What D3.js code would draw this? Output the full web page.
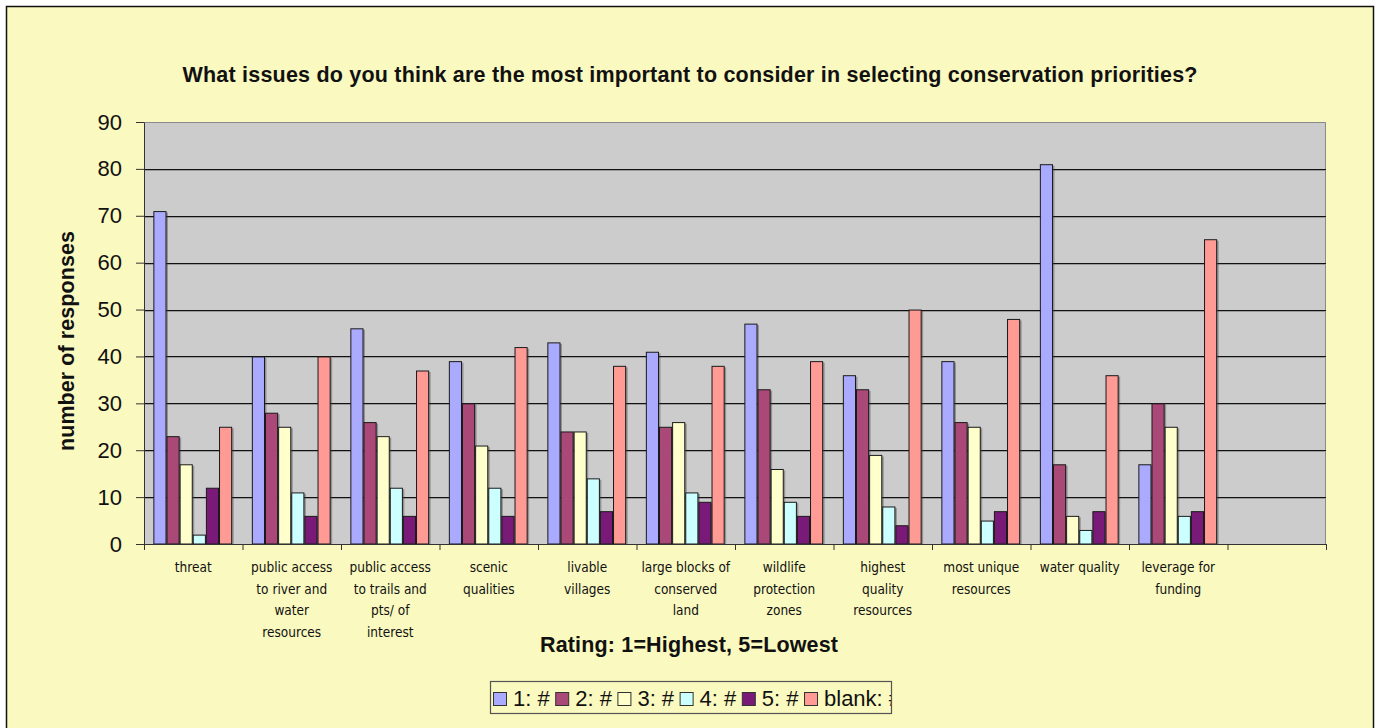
<!DOCTYPE html>
<html>
<head>
<meta charset="utf-8">
<script src="https://cdn.jsdelivr.net/npm/d3@7"></script>
<style>
  html, body { margin: 0; padding: 0; background: #ffffff; }
  svg { display: block; }
</style>
</head>
<body>
<svg id="chart" width="1381" height="728"></svg>
<script>
// Survey responses: how each issue was rated (1 = highest, 5 = lowest)
const categories = [
  "threat",
  "public access to river and water resources",
  "public access to trails and pts/ of interest",
  "scenic qualities",
  "livable villages",
  "large blocks of conserved land",
  "wildlife protection zones",
  "highest quality resources",
  "most unique resources",
  "water quality",
  "leverage for funding"
];
// Category labels as they wrap under the axis
const categoryLines = [
  ["threat"],
  ["public access", "to river and", "water", "resources"],
  ["public access", "to trails and", "pts/ of", "interest"],
  ["scenic", "qualities"],
  ["livable", "villages"],
  ["large blocks of", "conserved", "land"],
  ["wildlife", "protection", "zones"],
  ["highest", "quality", "resources"],
  ["most unique", "resources"],
  ["water quality"],
  ["leverage for", "funding"]
];
const seriesNames = ["1: #", "2: #", "3: #", "4: #", "5: #", "blank: #"];
const rating1 = [71, 40, 46, 39, 43, 41, 47, 36, 39, 81, 17];
const rating2 = [23, 28, 26, 30, 24, 25, 33, 33, 26, 17, 30];
const rating3 = [17, 25, 23, 21, 24, 26, 16, 19, 25, 6, 25];
const rating4 = [2, 11, 12, 12, 14, 11, 9, 8, 5, 3, 6];
const rating5 = [12, 6, 6, 6, 7, 9, 6, 4, 7, 7, 7];
const blank   = [25, 40, 37, 42, 38, 38, 39, 50, 48, 36, 65];
const yTicks = [0, 10, 20, 30, 40, 50, 60, 70, 80, 90];
const seriesColors = ["#aaaaff", "#aa4977", "#ffffcc", "#ccffff", "#7a1a78", "#ff9a94"];

const seriesValues = [rating1, rating2, rating3, rating4, rating5, blank];

const svg = d3.select("#chart");
const bg = "#faf9bf";
const sans = "Liberation Sans, Arial, sans-serif";

// Chart frame
svg.append("rect")
  .attr("x", 6.5).attr("y", 6.5)
  .attr("width", 1367).attr("height", 740)
  .attr("fill", bg).attr("stroke", "#111").attr("stroke-width", 1.5);

const plot = { left: 144, right: 1326, top: 122, bottom: 544 };

// One extra empty slot at the end of the category axis
const slots = categories.concat([""]);
const x0 = d3.scaleBand().domain(d3.range(slots.length))
  .range([plot.left, plot.right]).paddingInner(0).paddingOuter(0);
const bw = x0.bandwidth();
const x1 = d3.scaleBand().domain(d3.range(seriesNames.length))
  .range([bw * 0.095, bw * 0.895]).padding(0);
const y = d3.scaleLinear().domain([0, 90]).range([plot.bottom, plot.top]);

// Plot background
svg.append("rect")
  .attr("x", plot.left).attr("y", plot.top)
  .attr("width", plot.right - plot.left).attr("height", plot.bottom - plot.top)
  .attr("fill", "#cccccc");
svg.append("path")
  .attr("d", `M${plot.left},${plot.top + 0.5}H${plot.right - 0.5}V${plot.bottom}`)
  .attr("fill", "none").attr("stroke", "#8a8a8a").attr("stroke-width", 1);

// Gridlines with a soft shadow under each
const grid = svg.append("g");
yTicks.filter(t => t > 0 && t < 90).forEach(t => {
  grid.append("line")
    .attr("x1", plot.left).attr("x2", plot.right)
    .attr("y1", Math.round(y(t)) + 1.5).attr("y2", Math.round(y(t)) + 1.5)
    .attr("stroke", "#9a9a9a").attr("stroke-width", 1);
  grid.append("line")
    .attr("x1", plot.left).attr("x2", plot.right)
    .attr("y1", Math.round(y(t)) + 0.5).attr("y2", Math.round(y(t)) + 0.5)
    .attr("stroke", "#111").attr("stroke-width", 1);
});

// Bars
const rows = categories.map((c, i) => ({ i, vals: seriesValues.map(s => s[i]) }));
const groups = svg.append("g").selectAll("g").data(rows).join("g")
  .attr("transform", d => `translate(${x0(d.i)},0)`);

groups.selectAll("rect.shadow").data(d => d.vals).join("rect")
  .attr("class", "shadow")
  .attr("x", (v, j) => x1(j) + 1.5)
  .attr("y", v => y(v) + 1.5)
  .attr("width", x1.bandwidth())
  .attr("height", v => Math.max(0, y(0) - y(v) - 1.5))
  .attr("fill", "rgba(60,60,60,0.4)");

groups.selectAll("rect.bar").data(d => d.vals).join("rect")
  .attr("class", "bar")
  .attr("x", (v, j) => x1(j) + 0.5)
  .attr("y", v => y(v) + 0.5)
  .attr("width", x1.bandwidth() - 1)
  .attr("height", v => y(0) - y(v) - 0.5)
  .attr("fill", (v, j) => seriesColors[j])
  .attr("stroke", "#1a1a1a").attr("stroke-width", 1);

// Y axis
const yAxis = svg.append("g")
  .attr("transform", `translate(${plot.left},0)`)
  .call(d3.axisLeft(y).tickValues(yTicks).tickSize(8).tickSizeOuter(0).tickPadding(14));
yAxis.select(".domain").attr("stroke", "#333");
yAxis.selectAll(".tick line").attr("stroke", "#333");
yAxis.selectAll(".tick text")
  .attr("font-family", sans)
  .attr("font-size", 22).attr("fill", "#111");

// X axis: ticks on the category boundaries
const xIdx = d3.scaleLinear().domain([0, slots.length]).range([plot.left, plot.right]);
const xAxis = svg.append("g")
  .attr("transform", `translate(0,${plot.bottom})`)
  .call(d3.axisBottom(xIdx).tickValues(d3.range(slots.length + 1))
    .tickFormat("").tickSize(6).tickSizeOuter(0));
xAxis.select(".domain").attr("stroke", "#333");
xAxis.selectAll(".tick line").attr("stroke", "#333");

// Category labels
const labels = svg.append("g")
  .attr("font-family", "DejaVu Sans Condensed, DejaVu Sans, sans-serif")
  .attr("font-stretch", "condensed")
  .attr("font-size", 13.5).attr("fill", "#111").attr("text-anchor", "middle");
categoryLines.forEach((lines, i) => {
  const t = labels.append("text")
    .attr("x", x0(i) + bw / 2).attr("y", 572);
  lines.forEach((ln, k) => {
    t.append("tspan").attr("x", x0(i) + bw / 2).attr("y", 572 + k * 21.5).text(ln);
  });
});

// Titles
svg.append("text")
  .attr("x", 690).attr("y", 82).attr("text-anchor", "middle")
  .attr("font-family", sans)
  .attr("font-weight", "bold").attr("font-size", 21.5).attr("fill", "#111")
  .attr("textLength", 1015).attr("lengthAdjust", "spacing")
  .text("What issues do you think are the most important to consider in selecting conservation priorities?");

svg.append("text")
  .attr("x", 689).attr("y", 652).attr("text-anchor", "middle")
  .attr("font-family", sans)
  .attr("font-weight", "bold").attr("font-size", 21.5).attr("fill", "#111")
  .attr("textLength", 298).attr("lengthAdjust", "spacing")
  .text("Rating: 1=Highest, 5=Lowest");

svg.append("text")
  .attr("transform", `translate(74,341) rotate(-90)`)
  .attr("text-anchor", "middle")
  .attr("font-family", sans)
  .attr("font-weight", "bold").attr("font-size", 21.5).attr("fill", "#111")
  .attr("textLength", 220).attr("lengthAdjust", "spacing")
  .text("number of responses");

// Legend (the box is narrower than its contents, so the last entry is clipped)
const lg = { x: 490.5, y: 681.5, w: 401, h: 32 };
svg.append("defs").append("clipPath").attr("id", "legendClip")
  .append("rect").attr("x", lg.x).attr("y", lg.y).attr("width", lg.w).attr("height", lg.h);
svg.append("rect")
  .attr("x", lg.x).attr("y", lg.y).attr("width", lg.w).attr("height", lg.h)
  .attr("fill", bg);
const legend = svg.append("g").attr("clip-path", "url(#legendClip)");
let cx = 493;
seriesNames.forEach((name, j) => {
  legend.append("rect")
    .attr("x", cx + 0.5).attr("y", 692.5).attr("width", 13).attr("height", 13)
    .attr("fill", seriesColors[j]).attr("stroke", "#333").attr("stroke-width", 1);
  const t = legend.append("text")
    .attr("x", cx + 20).attr("y", 706)
    .attr("font-family", sans)
    .attr("font-size", 22).attr("fill", "#111")
    .text(name);
  cx += 20 + t.node().getComputedTextLength() + 5.5;
});
svg.append("rect")
  .attr("x", lg.x).attr("y", lg.y).attr("width", lg.w).attr("height", lg.h)
  .attr("fill", "none").attr("stroke", "#555").attr("stroke-width", 1.2);
</script>
</body>
</html>
